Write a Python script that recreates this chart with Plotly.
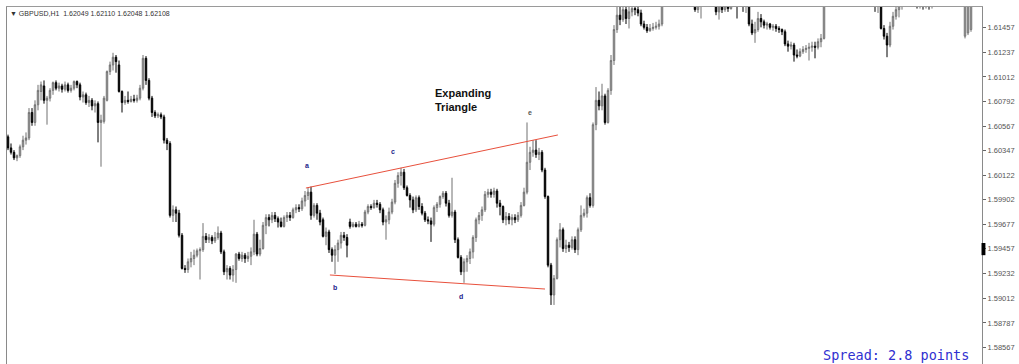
import plotly.graph_objects as go

# ---------------- data (GBPUSD H1) ----------------
opens = [
1.6047,1.6037,1.6033,1.6028,1.6030,1.6038,1.6044,1.6046,1.6069,1.6060,
1.6076,1.6088,1.6093,1.6080,1.6082,1.6089,1.6096,1.6091,1.6093,1.6090,
1.6094,1.6089,1.6091,1.6097,1.6094,1.6083,1.6085,1.6078,1.6080,1.6075,
1.6077,1.6060,1.6061,1.6080,1.6106,1.6112,1.6119,1.6112,1.6088,1.6078,
1.6080,1.6079,1.6081,1.6080,1.6082,1.6091,1.6118,1.6098,1.6082,1.6069,
1.6066,1.6067,1.6065,1.6044,1.6041,1.5976,1.5981,1.5978,1.5958,1.5928,
1.5927,1.5934,1.5937,1.5940,1.5944,1.5945,1.5957,1.5954,1.5956,1.5953,
1.5956,1.5960,1.5943,1.5925,1.5928,1.5922,1.5927,1.5941,1.5937,1.5940,
1.5937,1.5939,1.5943,1.5959,1.5941,1.5946,1.5967,1.5974,1.5972,1.5976,
1.5973,1.5970,1.5966,1.5974,1.5976,1.5974,1.5981,1.5983,1.5982,1.5989,
1.5994,1.5997,1.5976,1.5985,1.5978,1.5972,1.5957,1.5961,1.5945,1.5940,
1.5945,1.5951,1.5958,1.5956,1.5970,1.5966,1.5968,1.5966,1.5968,1.5967,
1.5979,1.5984,1.5983,1.5987,1.5986,1.5981,1.5970,1.5972,1.5979,1.5988,
1.6005,1.6012,1.6015,1.6001,1.5994,1.5990,1.5981,1.5992,1.5984,1.5978,
1.5972,1.5971,1.5968,1.5983,1.5986,1.5993,1.5996,1.5987,1.5976,1.5979,
1.5954,1.5938,1.5925,1.5934,1.5937,1.5943,1.5956,1.5972,1.5976,1.5981,
1.5995,1.5997,1.5995,1.5998,1.5987,1.5984,1.5972,1.5975,1.5972,1.5974,
1.5972,1.5976,1.5985,1.5997,1.6024,1.6033,1.6035,1.6031,1.6033,1.6017,
1.5993,1.5931,1.5904,1.5919,1.5954,1.5963,1.5946,1.5949,1.5947,1.5954,
1.5945,1.5963,1.5976,1.5978,1.5992,1.5985,1.6058,1.6080,1.6075,1.6084,
1.6060,1.6089,1.6116,1.6144,1.6157,1.6153,1.6162,1.6154,1.6160,1.6163,
1.6162,1.6159,1.6149,1.6146,1.6143,1.6145,1.6146,1.6147,1.6149,1.6171,
1.6184,1.6193,1.6198,1.6196,1.6202,1.6198,1.6193,1.6189,1.6184,1.6178,
1.6162,1.6169,1.6173,1.6180,1.6187,1.6182,1.6173,1.6160,1.6166,1.6162,
1.6168,1.6163,1.6173,1.6178,1.6174,1.6180,1.6166,1.6169,1.6149,1.6141,
1.6144,1.6154,1.6151,1.6148,1.6149,1.6146,1.6147,1.6145,1.6144,1.6142,
1.6131,1.6129,1.6130,1.6121,1.6120,1.6124,1.6126,1.6127,1.6128,1.6129,
1.6128,1.6133,1.6136,1.6175,1.6184,1.6189,1.6196,1.6193,1.6200,1.6198,
1.6194,1.6198,1.6192,1.6189,1.6191,1.6185,1.6182,1.6183,1.6178,1.6174,
1.6166,1.6169,1.6145,1.6138,1.6130,1.6147,1.6156,1.6162,1.6169,1.6173,
1.6180,1.6184,1.6178,1.6173,1.6167,1.6169,1.6165,1.6168,1.6166,1.6174,
1.6182,1.6187,1.6191,1.6187,1.6193,1.6189,1.6185,1.6180,1.6176,1.6138,
1.6141,1.6144]

highs = [
1.6049,1.6041,1.6035,1.6031,1.6040,1.6048,1.6051,1.6073,1.6073,1.6080,
1.6094,1.6097,1.6098,1.6084,1.6091,1.6097,1.6098,1.6096,1.6095,1.6097,
1.6096,1.6094,1.6098,1.6098,1.6096,1.6088,1.6087,1.6084,1.6082,1.6080,
1.6079,1.6067,1.6084,1.6107,1.6115,1.6123,1.6121,1.6116,1.6089,1.6084,
1.6088,1.6084,1.6085,1.6085,1.6094,1.6121,1.6120,1.6100,1.6084,1.6071,
1.6069,1.6069,1.6067,1.6046,1.6043,1.5985,1.5984,1.5981,1.5960,1.5931,
1.5937,1.5943,1.5945,1.5946,1.5947,1.5969,1.5960,1.5959,1.5958,1.5961,
1.5966,1.5962,1.5945,1.5931,1.5930,1.5931,1.5942,1.5943,1.5943,1.5942,
1.5943,1.5947,1.5972,1.5961,1.5954,1.5970,1.5977,1.5977,1.5979,1.5979,
1.5975,1.5974,1.5976,1.5979,1.5979,1.5983,1.5986,1.5986,1.5992,1.5998,
1.6001,1.6002,1.5987,1.5987,1.5981,1.5974,1.5965,1.5963,1.5947,1.5949,
1.5954,1.5961,1.5961,1.5959,1.5973,1.5970,1.5970,1.5971,1.5970,1.5981,
1.5986,1.5986,1.5990,1.5990,1.5988,1.5983,1.5976,1.5983,1.5991,1.6008,
1.6015,1.6019,1.6018,1.6003,1.5996,1.5993,1.5994,1.5994,1.5987,1.5980,
1.5975,1.5974,1.5985,1.5988,1.5994,1.5998,1.5998,1.5990,1.6010,1.5981,
1.5956,1.5940,1.5937,1.5940,1.5946,1.5958,1.5974,1.5979,1.5984,1.5998,
1.6000,1.6000,1.6001,1.6000,1.5990,1.5985,1.5979,1.5978,1.5977,1.5977,
1.5979,1.5988,1.6001,1.6060,1.6038,1.6044,1.6044,1.6037,1.6035,1.6019,
1.5994,1.5933,1.5922,1.5956,1.5969,1.5965,1.5954,1.5952,1.5957,1.5957,
1.5965,1.5985,1.5982,1.5994,1.5996,1.6060,1.6092,1.6088,1.6095,1.6086,
1.6091,1.6121,1.6148,1.6169,1.6171,1.6171,1.6166,1.6165,1.6171,1.6171,
1.6165,1.6162,1.6152,1.6149,1.6149,1.6150,1.6151,1.6153,1.6184,1.6189,
1.6198,1.6205,1.6203,1.6207,1.6207,1.6201,1.6198,1.6192,1.6187,1.6182,
1.6175,1.6178,1.6184,1.6193,1.6192,1.6185,1.6176,1.6173,1.6173,1.6173,
1.6174,1.6176,1.6182,1.6183,1.6185,1.6183,1.6173,1.6175,1.6153,1.6151,
1.6160,1.6158,1.6153,1.6151,1.6150,1.6149,1.6149,1.6147,1.6145,1.6144,
1.6134,1.6133,1.6132,1.6126,1.6127,1.6129,1.6130,1.6132,1.6133,1.6133,
1.6136,1.6140,1.6180,1.6191,1.6196,1.6201,1.6202,1.6205,1.6207,1.6203,
1.6201,1.6203,1.6198,1.6196,1.6194,1.6189,1.6187,1.6187,1.6182,1.6180,
1.6174,1.6173,1.6148,1.6141,1.6151,1.6160,1.6166,1.6174,1.6178,1.6184,
1.6189,1.6189,1.6182,1.6176,1.6173,1.6173,1.6171,1.6171,1.6178,1.6187,
1.6192,1.6196,1.6198,1.6198,1.6200,1.6194,1.6189,1.6185,1.6180,1.6176,
1.6178,1.6180]

lows = [
1.6035,1.6031,1.6026,1.6025,1.6028,1.6035,1.6040,1.6044,1.6057,1.6057,
1.6071,1.6080,1.6077,1.6058,1.6079,1.6085,1.6089,1.6088,1.6087,1.6088,
1.6087,1.6087,1.6089,1.6091,1.6080,1.6078,1.6076,1.6074,1.6071,1.6069,
1.6042,1.6020,1.6059,1.6079,1.6103,1.6107,1.6105,1.6087,1.6069,1.6076,
1.6077,1.6078,1.6078,1.6078,1.6080,1.6089,1.6094,1.6080,1.6065,1.6064,
1.6064,1.6063,1.6041,1.6035,1.5974,1.5970,1.5970,1.5956,1.5927,1.5924,
1.5924,1.5929,1.5931,1.5938,1.5918,1.5943,1.5951,1.5951,1.5950,1.5951,
1.5954,1.5941,1.5922,1.5918,1.5918,1.5916,1.5915,1.5935,1.5934,1.5933,
1.5934,1.5931,1.5940,1.5939,1.5939,1.5945,1.5959,1.5966,1.5969,1.5970,
1.5965,1.5965,1.5965,1.5970,1.5971,1.5973,1.5978,1.5979,1.5980,1.5984,
1.5990,1.5972,1.5974,1.5972,1.5967,1.5956,1.5949,1.5942,1.5934,1.5923,
1.5934,1.5946,1.5953,1.5938,1.5964,1.5965,1.5965,1.5965,1.5965,1.5966,
1.5977,1.5981,1.5982,1.5983,1.5978,1.5967,1.5954,1.5968,1.5977,1.5986,
1.6001,1.6003,1.5999,1.5993,1.5983,1.5978,1.5979,1.5981,1.5976,1.5970,
1.5968,1.5952,1.5966,1.5979,1.5983,1.5991,1.5984,1.5974,1.5974,1.5951,
1.5937,1.5922,1.5915,1.5925,1.5932,1.5937,1.5952,1.5968,1.5971,1.5979,
1.5992,1.5992,1.5992,1.5983,1.5976,1.5969,1.5967,1.5968,1.5967,1.5969,
1.5970,1.5974,1.5984,1.5995,1.6017,1.6029,1.6028,1.6026,1.6015,1.5991,
1.5929,1.5895,1.5895,1.5918,1.5947,1.5943,1.5942,1.5943,1.5945,1.5942,
1.5940,1.5961,1.5974,1.5974,1.5983,1.5983,1.6053,1.6071,1.6071,1.6058,
1.6059,1.6085,1.6112,1.6141,1.6148,1.6151,1.6149,1.6145,1.6156,1.6157,
1.6156,1.6147,1.6144,1.6141,1.6142,1.6143,1.6144,1.6144,1.6147,1.6169,
1.6180,1.6189,1.6191,1.6192,1.6194,1.6189,1.6184,1.6180,1.6174,1.6160,
1.6159,1.6154,1.6166,1.6176,1.6176,1.6169,1.6157,1.6153,1.6159,1.6160,
1.6160,1.6162,1.6167,1.6154,1.6171,1.6160,1.6159,1.6147,1.6139,1.6132,
1.6142,1.6146,1.6145,1.6144,1.6144,1.6143,1.6142,1.6141,1.6139,1.6129,
1.6124,1.6126,1.6115,1.6118,1.6119,1.6122,1.6123,1.6116,1.6124,1.6118,
1.6126,1.6128,1.6135,1.6171,1.6180,1.6185,1.6189,1.6189,1.6193,1.6191,
1.6189,1.6187,1.6184,1.6183,1.6182,1.6176,1.6176,1.6174,1.6169,1.6160,
1.6159,1.6144,1.6135,1.6119,1.6128,1.6144,1.6153,1.6155,1.6162,1.6169,
1.6176,1.6174,1.6168,1.6163,1.6163,1.6162,1.6163,1.6162,1.6163,1.6171,
1.6178,1.6183,1.6183,1.6182,1.6185,1.6182,1.6176,1.6173,1.6167,1.6136,
1.6139,1.6142]

closes = [
1.6037,1.6033,1.6028,1.6030,1.6038,1.6044,1.6046,1.6069,1.6060,1.6076,
1.6089,1.6094,1.6080,1.6082,1.6089,1.6096,1.6091,1.6093,1.6090,1.6094,
1.6089,1.6091,1.6097,1.6094,1.6083,1.6085,1.6078,1.6080,1.6075,1.6077,
1.6060,1.6062,1.6082,1.6106,1.6112,1.6119,1.6115,1.6088,1.6078,1.6080,
1.6079,1.6081,1.6080,1.6082,1.6091,1.6118,1.6098,1.6082,1.6069,1.6066,
1.6067,1.6065,1.6044,1.6041,1.5976,1.5981,1.5978,1.5958,1.5928,1.5927,
1.5934,1.5937,1.5940,1.5944,1.5945,1.5957,1.5954,1.5956,1.5953,1.5956,
1.5960,1.5943,1.5925,1.5928,1.5922,1.5927,1.5941,1.5937,1.5940,1.5937,
1.5939,1.5943,1.5959,1.5941,1.5946,1.5967,1.5974,1.5972,1.5976,1.5973,
1.5970,1.5966,1.5974,1.5976,1.5974,1.5981,1.5983,1.5982,1.5989,1.5994,
1.5997,1.5976,1.5985,1.5978,1.5970,1.5957,1.5961,1.5945,1.5940,1.5945,
1.5951,1.5958,1.5956,1.5949,1.5966,1.5968,1.5966,1.5968,1.5967,1.5979,
1.5984,1.5983,1.5987,1.5986,1.5981,1.5970,1.5972,1.5979,1.5988,1.6005,
1.6012,1.6015,1.6001,1.5994,1.5990,1.5981,1.5992,1.5984,1.5978,1.5972,
1.5971,1.5968,1.5983,1.5986,1.5993,1.5996,1.5987,1.5976,1.5979,1.5954,
1.5938,1.5925,1.5934,1.5937,1.5943,1.5956,1.5972,1.5976,1.5981,1.5995,
1.5997,1.5995,1.5998,1.5987,1.5984,1.5972,1.5975,1.5972,1.5974,1.5972,
1.5976,1.5985,1.5997,1.6024,1.6033,1.6035,1.6031,1.6033,1.6017,1.5993,
1.5931,1.5904,1.5919,1.5954,1.5963,1.5946,1.5949,1.5947,1.5954,1.5945,
1.5963,1.5976,1.5978,1.5992,1.5985,1.6058,1.6080,1.6075,1.6084,1.6060,
1.6089,1.6116,1.6144,1.6157,1.6153,1.6162,1.6154,1.6160,1.6163,1.6162,
1.6159,1.6149,1.6146,1.6143,1.6145,1.6146,1.6147,1.6149,1.6171,1.6184,
1.6193,1.6198,1.6196,1.6202,1.6198,1.6193,1.6189,1.6184,1.6178,1.6162,
1.6169,1.6173,1.6180,1.6187,1.6182,1.6173,1.6160,1.6166,1.6162,1.6168,
1.6163,1.6173,1.6178,1.6174,1.6180,1.6166,1.6169,1.6149,1.6141,1.6144,
1.6154,1.6151,1.6148,1.6149,1.6146,1.6147,1.6145,1.6144,1.6142,1.6131,
1.6129,1.6130,1.6121,1.6120,1.6124,1.6126,1.6127,1.6128,1.6129,1.6128,
1.6133,1.6136,1.6175,1.6184,1.6189,1.6196,1.6193,1.6200,1.6198,1.6194,
1.6198,1.6192,1.6189,1.6191,1.6185,1.6182,1.6183,1.6178,1.6174,1.6166,
1.6169,1.6145,1.6138,1.6130,1.6147,1.6156,1.6162,1.6169,1.6173,1.6180,
1.6184,1.6178,1.6173,1.6167,1.6169,1.6165,1.6168,1.6166,1.6174,1.6182,
1.6187,1.6191,1.6187,1.6193,1.6189,1.6185,1.6180,1.6176,1.6173,1.6171,
1.6174,1.6176]

bars = list(range(len(closes)))   # bar index (H1 candles)

price_ticks = [1.61457, 1.61237, 1.61012, 1.60792, 1.60567, 1.60347, 1.60122,
               1.59902, 1.59677, 1.59457, 1.59232, 1.59012, 1.58787, 1.58567]
price_tick_text = ["%.5f" % v for v in price_ticks]

# wave labels: (label, bar, price)
wave_labels = ["a", "b", "c", "d", "e"]
wave_bars = [99.7, 109.0, 128.3, 151.0, 174.0]
wave_prices = [1.60215, 1.59112, 1.60333, 1.59022, 1.60694]

# triangle boundary lines: (bar0, price0, bar1, price1)
upper_line = [99.3, 1.60007, 183.3, 1.60487]
lower_line = [107.3, 1.59221, 179.0, 1.59094]

header = "\u25bc GBPUSD,H1  1.62049 1.62110 1.62048 1.62108"
bid_marker = [1.5940, 1.5951]

# ---------------- figure ----------------
fig = go.Figure()
fig.add_trace(go.Candlestick(
    x=bars, open=opens, high=highs, low=lows, close=closes,
    increasing=dict(line=dict(color="#707070", width=1), fillcolor="#c4c4c4"),
    decreasing=dict(line=dict(color="#000000", width=1), fillcolor="#000000"),
    whiskerwidth=0, showlegend=False, hoverinfo="skip"))

shapes = [
    dict(type="line", xref="x", yref="y", x0=upper_line[0], y0=upper_line[1],
         x1=upper_line[2], y1=upper_line[3], line=dict(color="#e8503c", width=1)),
    dict(type="line", xref="x", yref="y", x0=lower_line[0], y0=lower_line[1],
         x1=lower_line[2], y1=lower_line[3], line=dict(color="#e8503c", width=1)),
    dict(type="rect", xref="paper", yref="y", x0=0.9995, x1=1.0035,
         y0=bid_marker[0], y1=bid_marker[1], fillcolor="#000000", line=dict(width=0)),
]

ann = []
for lab, b, p in zip(wave_labels, wave_bars, wave_prices):
    ann.append(dict(x=b, y=p, xref="x", yref="y", text="<b>%s</b>" % lab,
                    showarrow=False, font=dict(size=7, color="#555555" if lab == "e" else "#1c1c8a",
                                               family="Liberation Sans")))
ann.append(dict(x=(433 - 7) / 975, y=1 - (100 - 7) / 357, xref="paper", yref="paper",
                xanchor="left", yanchor="middle", align="left", showarrow=False,
                text="<b>Expanding<br>Triangle</b>",
                font=dict(size=11, color="#111111", family="Liberation Sans")))
ann.append(dict(x=(8 - 7) / 975, y=1 - (13 - 7) / 357, xref="paper", yref="paper",
                xanchor="left", yanchor="middle", showarrow=False, text=header,
                font=dict(size=7, color="#333333", family="Liberation Sans")))
ann.append(dict(x=(821 - 7) / 975, y=1 - (355 - 7) / 357, xref="paper", yref="paper",
                xanchor="left", yanchor="middle", showarrow=False, text="Spread: 2.8 points",
                font=dict(size=13.5, color="#3030d0", family="DejaVu Sans Mono")))

fig.update_layout(
    width=1019, height=364,
    margin=dict(l=7, r=37, t=7, b=0),
    paper_bgcolor="white", plot_bgcolor="white",
    shapes=shapes, annotations=ann,
    xaxis=dict(range=[-1 / 3, 325 - 1 / 3], rangeslider=dict(visible=False),
               showgrid=False, zeroline=False, showticklabels=False, ticks="",
               showline=True, side="top", linecolor="#9a9a9a", linewidth=1),
    yaxis=dict(range=[1.58416, 1.61644], side="right", showgrid=False, zeroline=False,
               tickvals=price_ticks, ticktext=price_tick_text, ticks="outside",
               ticklen=3, tickcolor="#666666",
               tickfont=dict(size=7.5, color="#555555", family="Liberation Sans"),
               showline=True, mirror=True, linecolor="#8a8a8a", linewidth=1),
)

fig.write_html("out.html", config={"displayModeBar": False},
               post_script="document.body.style.margin='0px';document.body.style.overflow='hidden';")
